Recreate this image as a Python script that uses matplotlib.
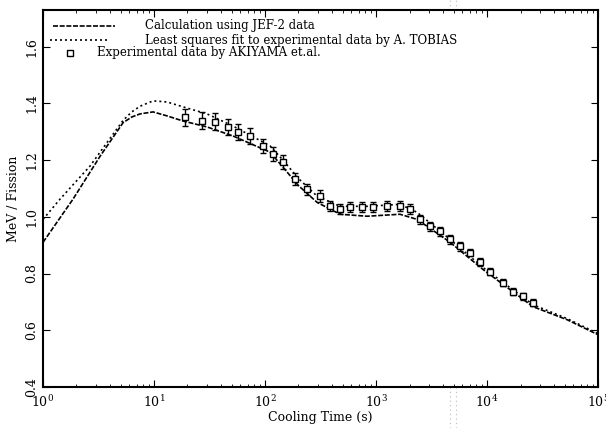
import matplotlib
matplotlib.use("Agg")
import matplotlib.pyplot as plt
from matplotlib.lines import Line2D
from matplotlib.ticker import LogLocator, FixedLocator

plt.rcParams['font.family'] = ['DejaVu Serif']

# JEF-2 calculation
t_calc = [1, 1.86, 3.27, 5.26, 6.3, 7.48, 9.8, 13.1, 18.2, 30, 51.5, 111, 145, 200,
          294, 474, 830, 1640, 2340, 4650, 9200, 25900, 52600, 100000]
e_calc = [0.910, 1.062, 1.214, 1.332, 1.352, 1.363, 1.370, 1.356, 1.338, 1.317, 1.285, 1.228,
          1.175, 1.110, 1.051, 1.009, 1.002, 1.009, 0.991, 0.910, 0.814, 0.683, 0.637, 0.584]

# least squares fit (Tobias)
t_fit = [1, 1.42, 2.65, 5.26, 6.3, 7.48, 9.8, 13.1, 18.2, 30, 51.5, 111, 145, 200,
         294, 474, 830, 1640, 2340, 4650, 9200, 25900, 52600, 100000]
e_fit = [0.991, 1.062, 1.179, 1.340, 1.370, 1.390, 1.409, 1.405, 1.388, 1.363, 1.320, 1.250,
         1.200, 1.135, 1.073, 1.037, 1.037, 1.044, 1.016, 0.920, 0.821, 0.690, 0.641, 0.588]

# Akiyama experimental data
t_exp = [19.0, 27.0, 35.5, 46.5, 57.1, 73.3, 95.9, 118, 145, 186, 239, 313, 385, 474,
         583, 748, 940, 1256, 1644, 2023, 2489, 3062, 3776, 4645, 5715, 7031, 8650,
         10640, 13930, 17140, 21090, 25940]
e_exp = [1.352, 1.338, 1.335, 1.317, 1.299, 1.285, 1.250, 1.221, 1.193, 1.133, 1.097, 1.073,
         1.037, 1.027, 1.034, 1.034, 1.034, 1.037, 1.037, 1.027, 0.991, 0.966, 0.949, 0.920,
         0.896, 0.874, 0.839, 0.807, 0.768, 0.736, 0.719, 0.697]
err_exp = [0.030, 0.030, 0.030, 0.028, 0.028, 0.028, 0.026, 0.025, 0.024, 0.022, 0.020, 0.020,
           0.018, 0.018, 0.018, 0.018, 0.018, 0.018, 0.017, 0.017, 0.016, 0.016, 0.015, 0.015,
           0.015, 0.014, 0.014, 0.014, 0.013, 0.013, 0.013, 0.013]

yticks = [0.4, 0.6, 0.8, 1.0, 1.2, 1.4, 1.6]

fig = plt.figure(figsize=(6.06, 4.28), dpi=100)
ax = fig.add_axes([0.071, 0.096, 0.916, 0.881])

ax.plot(t_calc, e_calc, color='black', lw=1.2, ls=(0, (3, 1)))
ax.plot(t_fit, e_fit, color='black', lw=1.2, ls=(0, (1.2, 1.8)))
ax.errorbar(t_exp, e_exp, yerr=err_exp, fmt='s', mfc='white', mec='black', ms=4,
            mew=1, ecolor='black', elinewidth=1, capsize=2)

ax.set_xscale('log')
ax.set_xlim(1, 1e5)
ax.set_ylim(0.4, 1.73)
ax.yaxis.set_major_locator(FixedLocator(yticks))
ax.set_yticklabels(['%.1f' % v for v in yticks], rotation=90, va='center', fontsize=7.5)
ax.xaxis.set_major_locator(LogLocator(base=10))
ax.xaxis.set_minor_locator(LogLocator(base=10, subs=range(2, 10)))
ax.tick_params(which='both', direction='in', top=True, right=True, labelsize=9)
ax.tick_params(axis='x', which='major', pad=5)
ax.tick_params(which='major', length=5)
ax.tick_params(which='minor', length=2.5)
for s in ax.spines.values():
    s.set_linewidth(1.5)

ax.set_xlabel('Cooling Time (s)', fontsize=9, labelpad=1)
ax.set_ylabel('MeV / Fission', fontsize=9, labelpad=4)

# legend drawn by hand, gnuplot style
ax.plot([0.018, 0.130], [0.958, 0.958], transform=ax.transAxes, color='black', lw=1.2, ls=(0, (3, 1)))
ax.text(0.184, 0.958, 'Calculation using JEF-2 data', transform=ax.transAxes, va='center', fontsize=8.5)
ax.plot([0.013, 0.121], [0.920, 0.920], transform=ax.transAxes, color='black', lw=1.2, ls=(0, (1.2, 1.8)))
ax.text(0.184, 0.920, 'Least squares fit to experimental data by A. TOBIAS', transform=ax.transAxes,
        va='center', fontsize=8.5)
ax.plot([0.049], [0.886], transform=ax.transAxes, marker='s', mfc='white', mec='black', ms=4)
ax.text(0.097, 0.886, 'Experimental data by AKIYAMA et.al.', transform=ax.transAxes, va='center', fontsize=8.5)

# faint dotted scan band
for xf in (450 / 606, 456 / 606):
    fig.add_artist(Line2D([xf, xf], [0, 1], transform=fig.transFigure, color='#bbbbbb',
                          lw=0.8, ls=(0, (1, 3)), zorder=0))

fig.savefig('out.png', dpi=100)
